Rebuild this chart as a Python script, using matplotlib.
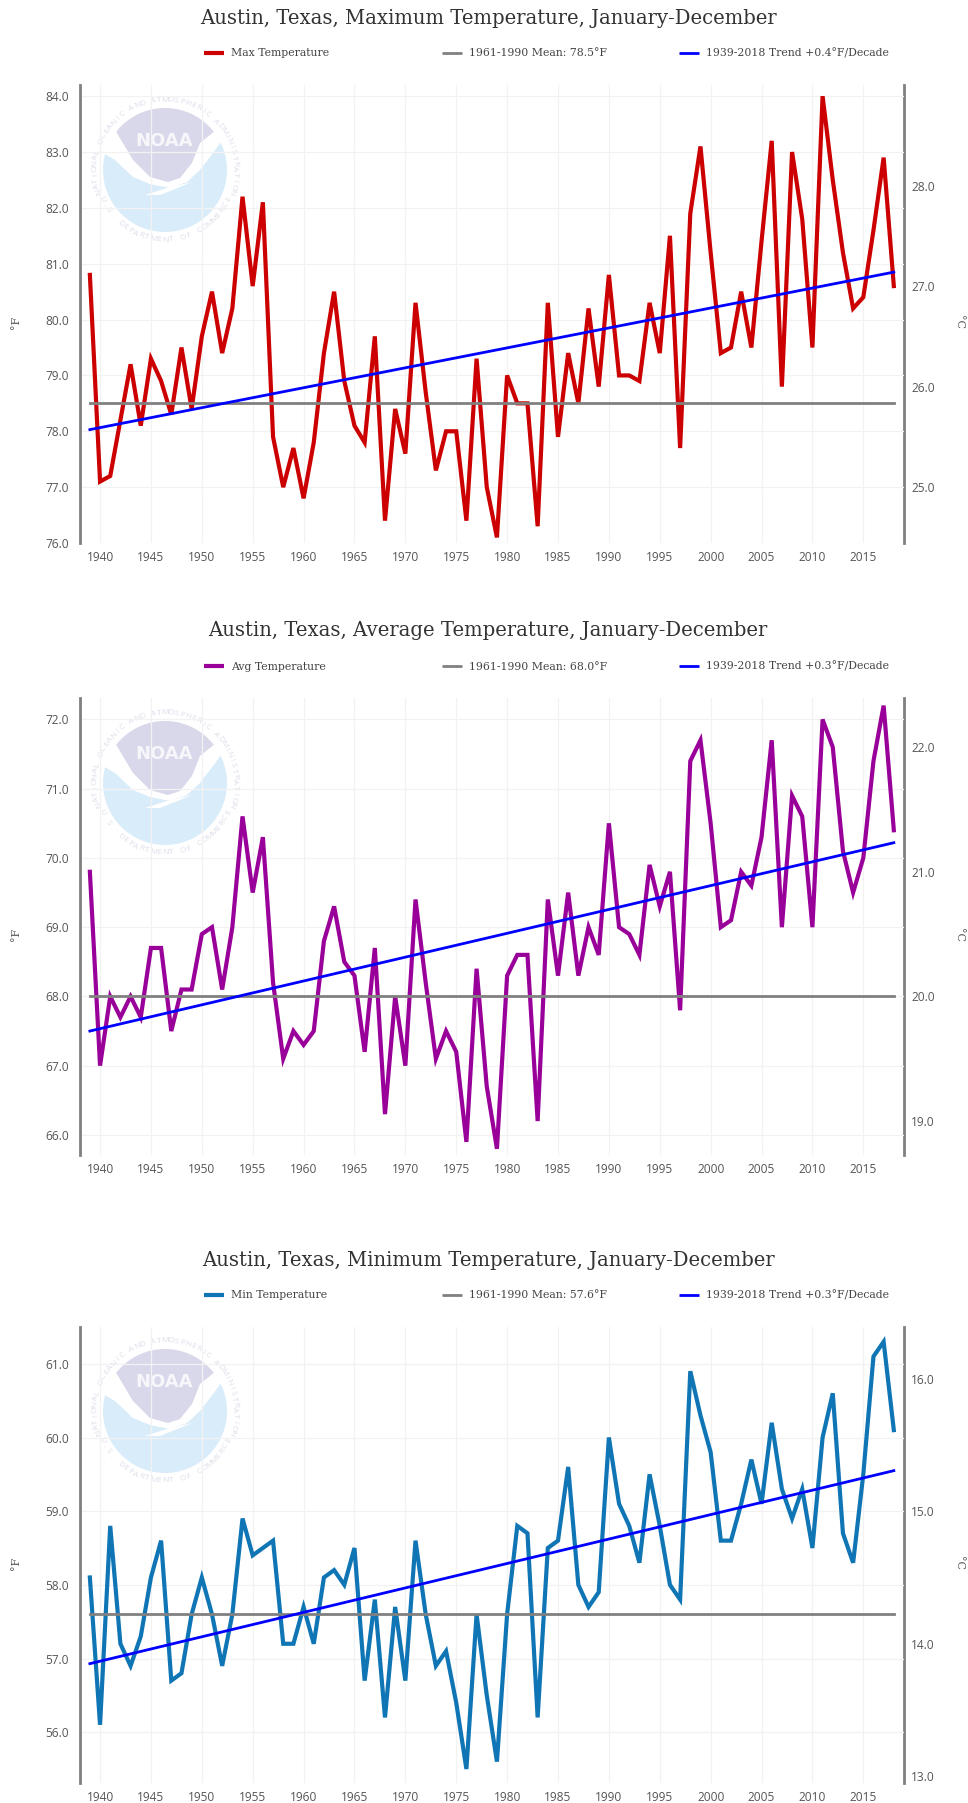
from matplotlib import pyplot as plt
from matplotlib.patches import Circle, Polygon
import numpy as np

years = list(range(1939, 2019))

# values, deg F
max_temp = [80.8, 77.1, 77.2, 78.2, 79.2, 78.1, 79.3, 78.9, 78.3, 79.5,
            78.4, 79.7, 80.5, 79.4, 80.2, 82.2, 80.6, 82.1, 77.9, 77.0,
            77.7, 76.8, 77.8, 79.4, 80.5, 78.9, 78.1, 77.8, 79.7, 76.4,
            78.4, 77.6, 80.3, 78.7, 77.3, 78.0, 78.0, 76.4, 79.3, 77.0,
            76.1, 79.0, 78.5, 78.5, 76.3, 80.3, 77.9, 79.4, 78.5, 80.2,
            78.8, 80.8, 79.0, 79.0, 78.9, 80.3, 79.4, 81.5, 77.7, 81.9,
            83.1, 81.2, 79.4, 79.5, 80.5, 79.5, 81.4, 83.2, 78.8, 83.0,
            81.8, 79.5, 84.0, 82.5, 81.2, 80.2, 80.4, 81.6, 82.9, 80.6]
avg_temp = [69.8, 67.0, 68.0, 67.7, 68.0, 67.7, 68.7, 68.7, 67.5, 68.1,
            68.1, 68.9, 69.0, 68.1, 69.0, 70.6, 69.5, 70.3, 68.2, 67.1,
            67.5, 67.3, 67.5, 68.8, 69.3, 68.5, 68.3, 67.2, 68.7, 66.3,
            68.0, 67.0, 69.4, 68.2, 67.1, 67.5, 67.2, 65.9, 68.4, 66.7,
            65.8, 68.3, 68.6, 68.6, 66.2, 69.4, 68.3, 69.5, 68.3, 69.0,
            68.6, 70.5, 69.0, 68.9, 68.6, 69.9, 69.3, 69.8, 67.8, 71.4,
            71.7, 70.5, 69.0, 69.1, 69.8, 69.6, 70.3, 71.7, 69.0, 70.9,
            70.6, 69.0, 72.0, 71.6, 70.1, 69.5, 70.0, 71.4, 72.2, 70.4]
min_temp = [58.1, 56.1, 58.8, 57.2, 56.9, 57.3, 58.1, 58.6, 56.7, 56.8,
            57.6, 58.1, 57.6, 56.9, 57.6, 58.9, 58.4, 58.5, 58.6, 57.2,
            57.2, 57.7, 57.2, 58.1, 58.2, 58.0, 58.5, 56.7, 57.8, 56.2,
            57.7, 56.7, 58.6, 57.6, 56.9, 57.1, 56.4, 55.5, 57.6, 56.5,
            55.6, 57.6, 58.8, 58.7, 56.2, 58.5, 58.6, 59.6, 58.0, 57.7,
            57.9, 60.0, 59.1, 58.8, 58.3, 59.5, 58.8, 58.0, 57.8, 60.9,
            60.3, 59.8, 58.6, 58.6, 59.1, 59.7, 59.1, 60.2, 59.3, 58.9,
            59.3, 58.5, 60.0, 60.6, 58.7, 58.3, 59.5, 61.1, 61.3, 60.1]

trend_years = [1939, 2018]
max_trend = [78.03, 80.85]
avg_trend = [67.5, 70.22]
min_trend = [56.93, 59.55]

x_ticks = list(range(1940, 2016, 5))
max_f_ticks = [76, 77, 78, 79, 80, 81, 82, 83, 84]
avg_f_ticks = [66, 67, 68, 69, 70, 71, 72]
min_f_ticks = [56, 57, 58, 59, 60, 61]
max_c_ticks = [25, 26, 27, 28]
avg_c_ticks = [19, 20, 21, 22]
min_c_ticks = [13, 14, 15, 16]

W, H = 968, 1803
sans = 'Open Sans'
serif = 'DejaVu Serif'
tick_col = '#555555'
axis_col = '#808080'
grid_col = '#f2f2f2'

fig = plt.figure(figsize=(W/100, H/100), dpi=100)

# page layer in pixel coords, holds logo, titles, legends
page = fig.add_axes([0, 0, 1, 1], zorder=0)
page.set_xlim(0, W)
page.set_ylim(H, 0)
page.axis('off')


def ring_text(cx, cy, r, s, start, stop, top=True):
    # one character at a time round the seal
    for ch, deg in zip(s, np.linspace(start, stop, len(s))):
        rad = np.radians(deg)
        rot = deg - 90 if top else deg + 90
        page.text(cx + r*np.cos(rad), cy - r*np.sin(rad), ch, fontsize=6,
                  color='#dedeec', family=sans, ha='center', va='center',
                  rotation=rot, rotation_mode='anchor')


def logo(cx, cy):
    page.add_patch(Circle((cx, cy), 62, fc='#d9ecfa', ec='none'))
    edge = [(-62, -17), (-50, -10), (-32, 7), (-15, 14), (5, 18), (22, 12),
            (35, 0), (48, -17), (56, -28)]
    a = np.radians(np.linspace(30, 165, 40))
    cap = [(64*np.cos(t), -64*np.sin(t)) for t in a]
    page.add_patch(Polygon([(cx+p, cy+q) for p, q in edge + cap], fc='white', ec='none'))
    a = np.radians(np.linspace(142, 38, 40))
    top = [(62*np.cos(t), -62*np.sin(t)) for t in a]
    low = [(35, -27), (27, -7), (15, 8), (3, 12), (-15, 7), (-32, -10)]
    page.add_patch(Polygon([(cx+p, cy+q) for p, q in top + low], fc='#d9d8ea', ec='none'))
    tail = [(-20, 25), (2, 18), (27, 12), (15, 17), (-5, 25)]
    page.add_patch(Polygon([(cx+p, cy+q) for p, q in tail], fc='white', ec='none'))
    page.text(cx-1, cy-29, 'NOAA', color='#f6f6fb', fontsize=13, weight='bold',
              family='DejaVu Sans', ha='center', va='center')
    ring_text(cx, cy, 70, 'NATIONAL OCEANIC AND ATMOSPHERIC ADMINISTRATION', 198, -18)
    ring_text(cx, cy, 70, 'U.S. DEPARTMENT OF COMMERCE', 205, 335, top=False)


def panel(top_px, bot_px, f_low, f_high, values, trend, mean, color, name,
          title, title_y, legend_y, f_ticks, c_ticks, logo_y, mean_txt, trend_txt):
    ax = fig.add_axes([80/W, 1 - bot_px/H, (904-80)/W, (bot_px-top_px)/H], zorder=1)
    ax.patch.set_alpha(0)
    ax.set_xlim(1938.03, 2019)
    ax.set_ylim(f_low, f_high)
    ax.set_xticks(x_ticks)
    ax.set_yticks(f_ticks)
    ax.set_yticklabels(['%.1f' % v for v in f_ticks])
    ax.grid(True, color=grid_col, lw=0.9)
    ax.set_axisbelow(True)
    for side in ['top', 'bottom', 'right']:
        ax.spines[side].set_visible(False)
    ax.spines['left'].set_color(axis_col)
    ax.spines['left'].set_linewidth(2)
    ax.tick_params(axis='x', length=0, pad=6, labelsize=8.6, labelcolor=tick_col)
    ax.tick_params(axis='y', length=0, pad=8, labelsize=8.6, labelcolor=tick_col)
    for lab in ax.get_xticklabels() + ax.get_yticklabels():
        lab.set_family(sans)

    ax.plot(years, values, color=color, lw=3, solid_joinstyle='miter')
    ax.plot(trend_years, [mean, mean], color=axis_col, lw=2)
    ax.plot(trend_years, trend, color='#0000ff', lw=2)

    sec = ax.secondary_yaxis('right', functions=(lambda f: (f-32)/1.8, lambda c: c*1.8+32))
    sec.set_yticks(c_ticks)
    sec.set_yticklabels(['%.1f' % v for v in c_ticks])
    sec.spines['right'].set_color(axis_col)
    sec.spines['right'].set_linewidth(2)
    sec.tick_params(axis='y', length=0, pad=5, labelsize=8.6, labelcolor=tick_col)
    for lab in sec.get_yticklabels():
        lab.set_family(sans)

    logo(165, logo_y)
    mid = (top_px + bot_px)/2 + 8
    page.text(16, mid, '°F', rotation=90, fontsize=8, color=tick_col, family=serif,
              ha='center', va='center')
    page.text(959, mid, '°C', rotation=-90, fontsize=8, color=tick_col, family=serif,
              ha='center', va='center')
    page.text(488, title_y, title, fontsize=14.1, color='#333333', family=serif,
              ha='center', va='center')
    entries = [(204, color, 3, name), (442, axis_col, 2, mean_txt), (679, '#0000ff', 2, trend_txt)]
    for x0, col, lw, label in entries:
        page.plot([x0, x0+20], [legend_y, legend_y], color=col, lw=lw, solid_capstyle='butt')
        page.text(x0+27, legend_y+0.5, label, fontsize=7.8, color='#444444', family=serif,
                  ha='left', va='center')


panel(85, 543, 76.0, 84.2, max_temp, max_trend, 78.5, '#cc0000', 'Max Temperature',
      'Austin, Texas, Maximum Temperature, January-December', 19, 53,
      max_f_ticks, max_c_ticks, 170, '1961-1990 Mean: 78.5°F', '1939-2018 Trend +0.4°F/Decade')
panel(698, 1155, 65.71, 72.31, avg_temp, avg_trend, 68.0, '#990099', 'Avg Temperature',
      'Austin, Texas, Average Temperature, January-December', 631, 666,
      avg_f_ticks, avg_c_ticks, 783, '1961-1990 Mean: 68.0°F', '1939-2018 Trend +0.3°F/Decade')
panel(1327, 1783, 55.31, 61.5, min_temp, min_trend, 57.6, '#0f75b5', 'Min Temperature',
      'Austin, Texas, Minimum Temperature, January-December', 1260, 1295,
      min_f_ticks, min_c_ticks, 1411, '1961-1990 Mean: 57.6°F', '1939-2018 Trend +0.3°F/Decade')

page.set_xlim(0, W)
page.set_ylim(H, 0)
fig.savefig('out.png', dpi=100)
